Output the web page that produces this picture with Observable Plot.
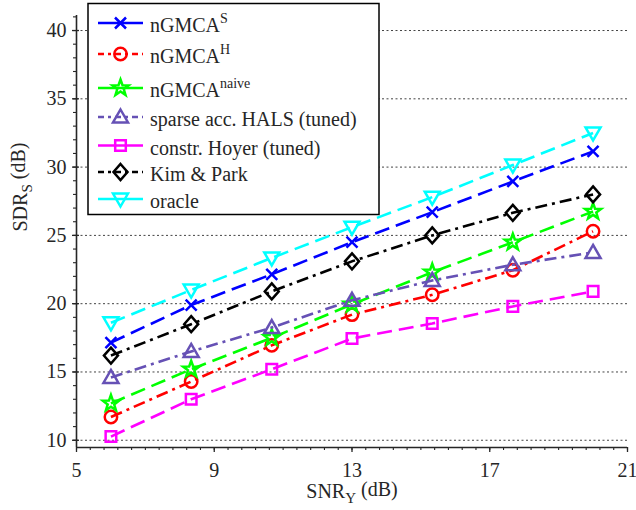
<!DOCTYPE html>
<html>
<head>
<meta charset="utf-8">
<script src="https://cdn.jsdelivr.net/npm/d3@7"></script>
<script src="https://cdn.jsdelivr.net/npm/@observablehq/plot@0.6"></script>
<style>
  body { margin: 0; background: #fff; }
  #chart { position: relative; width: 636px; height: 510px; }
</style>
</head>
<body>
<div id="chart"></div>
<script>
// ---- data ----
const snr = [6, 8.33, 10.67, 13, 15.33, 17.67, 20];
const nGMCA_S     = [17.15, 19.9, 22.15, 24.5, 26.7, 28.95, 31.15];
const nGMCA_H     = [11.7, 14.3, 16.95, 19.2, 20.65, 22.45, 25.3];
const nGMCA_naive = [12.7, 15.2, 17.5, 19.95, 22.3, 24.5, 26.75];
const halsTuned   = [14.6, 16.5, 18.25, 20.25, 21.7, 22.85, 23.75];
const hoyerTuned  = [10.27, 13.0, 15.2, 17.45, 18.55, 19.8, 20.9];
const kimPark     = [16.2, 18.5, 20.9, 23.1, 25.0, 26.65, 28.0];
const oracle      = [18.6, 21.0, 23.35, 25.6, 27.8, 30.15, 32.5];

const seriesNames = ["nGMCA", "nGMCA", "nGMCA", "sparse acc. HALS (tuned)", "constr. Hoyer (tuned)", "Kim & Park", "oracle"];
const seriesSups  = ["S", "H", "naive", "", "", "", ""];
const seriesValues = [nGMCA_S, nGMCA_H, nGMCA_naive, halsTuned, hoyerTuned, kimPark, oracle];

const xTicks = [5, 9, 13, 17, 21];
const yTicks = [10, 15, 20, 25, 30, 35, 40];
const xDomain = [5, 21];
const yDomain = [9.47, 41.1];
const xLabel = "SNR_Y (dB)";
const yLabel = "SDR_S (dB)";

// ---- styles ----
const colors = ["#0000ff", "#ff0000", "#00ff00", "#6651b5", "#ff00ff", "#000000", "#00ffff"];
const DASH = "15,7";
const DASHDOT = "12,5,3,5";
const dashes = [DASH, DASHDOT, DASH, DASHDOT, DASH, DASHDOT, DASH];

const sym = {
  cross: {draw(c) { const s = 5.5; c.moveTo(-s, -s); c.lineTo(s, s); c.moveTo(-s, s); c.lineTo(s, -s); }},
  circle: {draw(c) { const r = 6.2; c.moveTo(r, 0); c.arc(0, 0, r, 0, 2 * Math.PI); c.closePath(); }},
  star: {draw(c) {
    for (let i = 0; i < 10; i++) {
      const r = i % 2 ? 3.4 : 8.5, a = -Math.PI / 2 + i * Math.PI / 5;
      const x = r * Math.cos(a), y = r * Math.sin(a);
      if (i) c.lineTo(x, y); else c.moveTo(x, y);
    }
    c.closePath();
  }},
  triUp: {draw(c) { c.moveTo(0, -7.5); c.lineTo(7.5, 5.5); c.lineTo(-7.5, 5.5); c.closePath(); }},
  square: {draw(c) { const s = 5.3; c.moveTo(-s, -s); c.lineTo(s, -s); c.lineTo(s, s); c.lineTo(-s, s); c.closePath(); }},
  diamond: {draw(c) { c.moveTo(0, -8); c.lineTo(7, 0); c.lineTo(0, 8); c.lineTo(-7, 0); c.closePath(); }},
  triDown: {draw(c) { c.moveTo(0, 7.5); c.lineTo(7.5, -5.5); c.lineTo(-7.5, -5.5); c.closePath(); }}
};
const symbols = [sym.cross, sym.circle, sym.star, sym.triUp, sym.square, sym.diamond, sym.triDown];

const FONT = "'Liberation Serif', 'Times New Roman', serif";
const INK = "#262626";

const tables = seriesValues.map(vals => snr.map((x, i) => ({x, y: vals[i]})));
const xMinor = d3.range(0, 41).map(i => 5 + i * 0.4);
const yMinor = d3.range(10, 42);

const marks = [
  Plot.ruleY(yTicks, {stroke: "#444", strokeWidth: 1, strokeDasharray: "2,2.5"}),
  Plot.axisY({ticks: yTicks, tickSize: 4, tickPadding: 6, label: null, stroke: INK, fill: INK, strokeWidth: 1.3}),
  Plot.axisY({ticks: yTicks, tickSize: -3, text: null, label: null, stroke: INK, strokeWidth: 1.3}),
  Plot.axisY({ticks: yMinor, tickSize: 3, text: null, label: null, stroke: INK, strokeWidth: 1.1}),
  Plot.axisX({ticks: xTicks, tickSize: 5, tickPadding: 10, label: null, stroke: INK, fill: INK, strokeWidth: 1.3}),
  Plot.axisX({ticks: xMinor, tickSize: 3, text: null, label: null, stroke: INK, strokeWidth: 1.1}),
  Plot.ruleX([xDomain[0]], {stroke: INK, strokeWidth: 1.6}),
  Plot.ruleY([yDomain[0]], {stroke: INK, strokeWidth: 1.6}),
  Plot.text([yLabel], {text: d => d, frameAnchor: "left", dx: -56, rotate: -90, fontSize: 20, fill: INK}),
  Plot.text([xLabel], {text: d => d, frameAnchor: "bottom", dy: 50, fontSize: 20, fill: INK})
];
tables.forEach((t, k) => {
  marks.push(Plot.line(t, {x: "x", y: "y", stroke: colors[k], strokeWidth: 2.6, strokeDasharray: dashes[k], strokeLinecap: "butt"}));
  marks.push(Plot.dot(t, {x: "x", y: "y", symbol: symbols[k], stroke: colors[k], fill: "none", strokeWidth: 2.5}));
});

const svgNode = Plot.plot({
  width: 636,
  height: 510,
  marginLeft: 76,
  marginRight: 9,
  marginTop: 15,
  marginBottom: 63,
  x: {domain: xDomain, axis: null},
  y: {domain: yDomain, axis: null},
  style: {fontFamily: FONT, fontSize: "20px", background: "#fff", color: INK},
  marks
});
document.getElementById("chart").appendChild(svgNode);

const svg = d3.select(svgNode);
// subscripts in axis labels
svg.selectAll("text").each(function() {
  const t = this.textContent;
  if (t === yLabel || t === xLabel) {
    const [base, rest] = t.split("_");
    const sub = rest.slice(0, 1), tail = rest.slice(1);
    const el = d3.select(this);
    el.text(null);
    el.append("tspan").text(base);
    el.append("tspan").attr("dy", "0.35em").attr("font-size", 15).text(sub);
    el.append("tspan").attr("dy", "-0.35em").text(tail);
  }
});

// legend
const lg = svg.append("g").attr("font-family", FONT).attr("font-size", 20).attr("fill", INK).attr("text-anchor", "start");
lg.append("rect").attr("x", 88).attr("y", 3.5).attr("width", 291).attr("height", 211)
  .attr("fill", "#fff").attr("stroke", "#000").attr("stroke-width", 1.5);
const rowY = [23, 54, 88, 117, 145.5, 172, 199];
seriesNames.forEach((name, k) => {
  const y = rowY[k];
  lg.append("line").attr("x1", 98).attr("x2", 143).attr("y1", y).attr("y2", y)
    .attr("stroke", colors[k]).attr("stroke-width", 2.6).attr("stroke-dasharray", dashes[k] === DASH ? null : "6,4,3,4");
  const p = d3.path(); symbols[k].draw(p, 0);
  lg.append("path").attr("d", p.toString()).attr("transform", `translate(120.5,${y})`)
    .attr("fill", "none").attr("stroke", colors[k]).attr("stroke-width", 2.5);
  const tx = lg.append("text").attr("x", 150).attr("y", y + 9).attr("text-anchor", "start");
  tx.append("tspan").text(name);
  if (seriesSups[k]) tx.append("tspan").attr("dy", -9).attr("font-size", 14).text(seriesSups[k]);
});
</script>
</body>
</html>
